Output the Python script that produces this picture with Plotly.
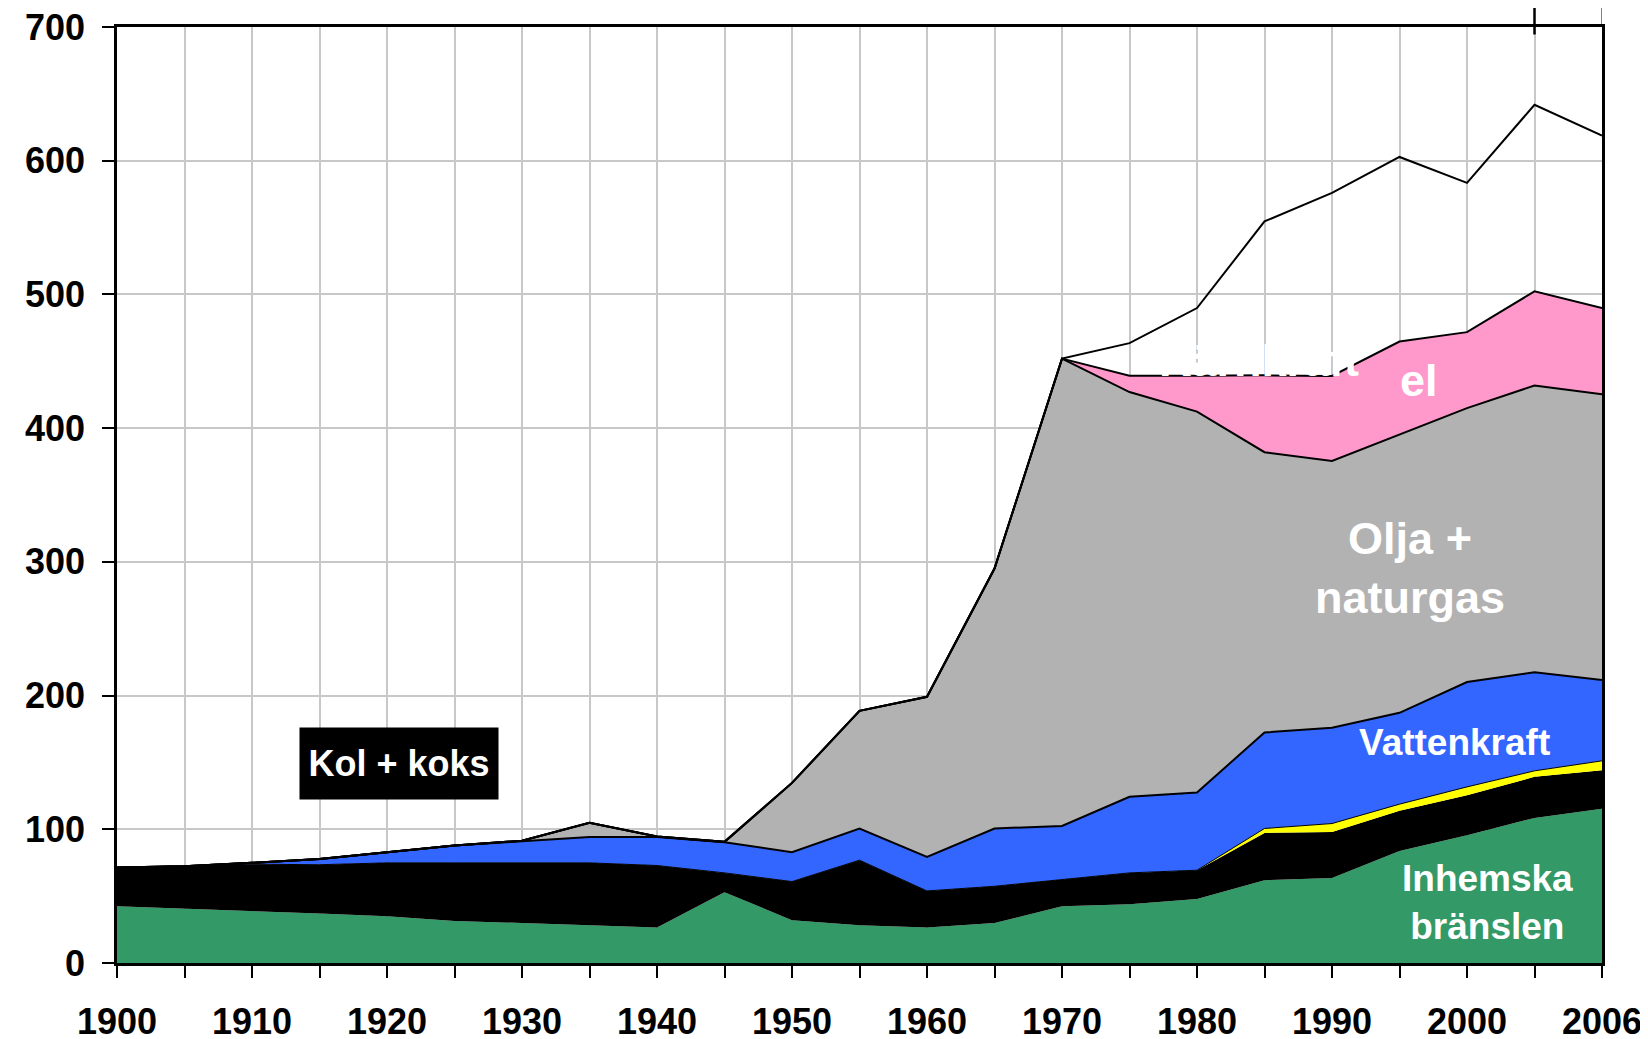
import plotly.graph_objects as go

years = ["1900", "1905", "1910", "1915", "1920", "1925", "1930", "1935", "1940",
         "1945", "1950", "1955", "1960", "1965", "1970", "1975", "1980", "1985",
         "1990", "1995", "2000", "2005", "2006"]
tick_text = ["1900", "", "1910", "", "1920", "", "1930", "", "1940", "", "1950", "",
             "1960", "", "1970", "", "1980", "", "1990", "", "2000", "", "2006"]

# TWh per energy source (stacked bottom to top)
inhemska = [42.4, 40.7, 38.9, 37.0, 35.0, 31.4, 29.9, 28.2, 26.5, 52.9, 32.0, 28.2,
            26.5, 29.9, 42.4, 43.9, 47.9, 61.9, 63.6, 83.8, 95.6, 108.5, 115.3]
kol = [29.0, 31.7, 35.0, 36.5, 39.9, 43.5, 45.0, 46.7, 46.4, 14.5, 28.9, 48.7,
       27.4, 27.5, 20.0, 23.5, 21.5, 35.4, 34.4, 30.0, 29.9, 30.7, 28.9]
varmepump = [0, 0, 0, 0, 0, 0, 0, 0, 0, 0, 0, 0,
             0, 0, 0, 0, 0, 3.3, 6.3, 5.0, 6.2, 4.5, 7.0]
vattenkraft = [0, 0, 1.0, 4.3, 8.0, 13.0, 16.2, 19.4, 21.4, 22.9, 22.0, 23.7,
               25.5, 43.2, 40.1, 56.9, 58.1, 71.8, 71.6, 68.3, 78.4, 73.7, 60.4]
olja = [0, 0, 0, 0, 0, 0, 0.4, 10.5, 0.3, 0.3, 51.8, 88.0,
        119.7, 194.4, 349.5, 302.7, 284.9, 209.6, 199.6, 207.9, 204.9, 214.5, 213.8]
karnkraft_el = [0, 0, 0, 0, 0, 0, 0, 0, 0, 0, 0, 0,
                0, 0, 0, 12.2, 26.8, 57.5, 63.5, 69.8, 56.8, 70.4, 64.4]
karnkraft_forl = [0, 0, 0, 0, 0, 0, 0, 0, 0, 0, 0, 0,
                  0, 0, 0, 24.4, 50.6, 115.1, 136.9, 138.0, 111.6, 139.5, 129.0]

FONT = "Liberation Sans, Arial, sans-serif"

fig = go.Figure()

series = [
    ("Inhemska bränslen", inhemska, "#339966", 0),
    ("Kol + koks", kol, "#000000", 0),
    ("Värmepumpar", varmepump, "#ffff00", 1),
    ("Vattenkraft", vattenkraft, "#3366ff", 2),
    ("Olja + naturgas", olja, "#b2b2b2", 2),
    ("Kärnkraft el", karnkraft_el, "#ff99cc", 2),
    ("Kärnkraft", karnkraft_forl, "rgba(0,0,0,0)", 2),
]
for name, vals, color, lw in series:
    fig.add_trace(go.Scatter(
        x=years, y=vals, name=name, mode="lines", stackgroup="one",
        fillcolor=color,
        line=dict(color="black", width=lw) if lw else dict(color=color, width=0),
    ))

labels = [
    ("Kol + koks", 0.190, 149.1, 36),
    ("Olja +<br>naturgas", 0.871, 295.1, 45),
    ("Vattenkraft", 0.901, 165.2, 37),
    ("Inhemska<br>bränslen", 0.923, 45.4, 37),
    ("el", 0.877, 435.4, 45),
    ("Kärnkraft", 0.769, 450.4, 45),
]
for text, x, y, size in labels:
    box = text == "Kol + koks"
    fig.add_annotation(
        x=x, y=y, xref="paper", yref="y", text=text, showarrow=False,
        xanchor="center", yanchor="middle",
        font=dict(family=FONT, size=size, color="white", weight="bold"),
        bgcolor="black" if box else None,
        width=190 if box else None, height=63 if box else None,
        borderpad=4 if box else 1,
    )

# stray marks of the original picture
fig.add_shape(type="line", xref="x", yref="paper", x0=21, x1=21, y0=0.992, y1=1.03,
              line=dict(color="black", width=2.5))
fig.add_shape(type="line", xref="x", yref="paper", x0=22, x1=22, y0=1.0, y1=1.03,
              line=dict(color="black", width=1))
fig.add_shape(type="rect", xref="paper", yref="paper", x0=1.028, x1=1.032, y0=0.097, y1=0.332,
              line=dict(width=0), fillcolor="#c0c0c0")

# page body adds an 8px offset, so the figure is 8px smaller on each axis
fig.update_layout(
    width=1640, height=1031,
    margin=dict(l=109, r=46, t=19, b=76),
    plot_bgcolor="white", paper_bgcolor="white",
    showlegend=False,
    font=dict(family=FONT, color="black"),
)
fig.update_xaxes(
    type="category", range=[0, 22],
    tickvals=years, ticktext=tick_text, tickangle=0,
    ticks="outside", ticklen=12, tickwidth=2, tickcolor="black",
    tickfont=dict(size=36, weight="bold"), ticklabelstandoff=13,
    ticklabeloverflow="allow",
    showline=True, linewidth=2.5, linecolor="black", mirror=True,
    showgrid=True, gridcolor="#c8c8c8", gridwidth=1.5, automargin=False,
)
fig.update_yaxes(
    range=[0, 700], dtick=100,
    ticks="outside", ticklen=12, tickwidth=2, tickcolor="black",
    tickfont=dict(size=36, weight="bold"), ticklabelstandoff=10,
    ticklabeloverflow="allow",
    showline=True, linewidth=2.5, linecolor="black", mirror=True,
    showgrid=True, gridcolor="#c8c8c8", gridwidth=1.5, zeroline=False, automargin=False,
)

fig.write_html("out.html")
